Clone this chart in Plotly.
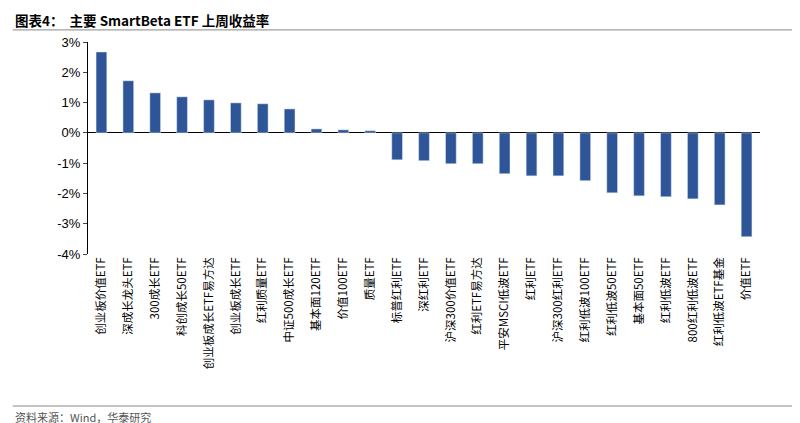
import plotly.graph_objects as go

categories = ["创业板价值ETF","深成长龙头ETF","300成长ETF","科创成长50ETF","创业板成长ETF易方达","创业板成长ETF",
"红利质量ETF","中证500成长ETF","基本面120ETF","价值100ETF","质量ETF","标普红利ETF","深红利ETF","沪深300价值ETF",
"红利ETF易方达","平安MSCI低波ETF","红利ETF","沪深300红利ETF","红利低波100ETF","红利低波50ETF","基本面50ETF",
"红利低波ETF","800红利低波ETF","红利低波ETF基金","价值ETF"]
values = [2.67,1.72,1.32,1.19,1.09,0.99,0.96,0.79,0.13,0.10,0.07,-0.89,-0.92,-1.02,-1.02,-1.35,-1.42,-1.42,-1.58,-1.98,-2.08,-2.11,-2.18,-2.38,-3.43]
tick_vals = [3,2,1,0,-1,-2,-3,-4]
tick_text = ["3%","2%","1%","0%","-1%","-2%","-3%","-4%"]

fig = go.Figure(go.Bar(x=categories, y=values, marker_color="#2E5597", width=0.4))
fig.update_layout(
    width=800, height=423, paper_bgcolor="white", plot_bgcolor="white",
    margin=dict(l=80, r=48, t=34, b=177), showlegend=False,
    font=dict(family="Noto Sans CJK SC, Arial", size=12, color="black"),
)
fig.update_xaxes(tickangle=-90, showline=False, ticks="", tickfont=dict(size=11.5))
fig.update_yaxes(range=[-4,3], tickvals=tick_vals, ticktext=tick_text, showgrid=False,
                 showline=True, linecolor="black", ticks="outside", ticklen=4,
                 zeroline=True, zerolinecolor="black", zerolinewidth=1, tickfont=dict(family="Arial", size=13))
fig.add_annotation(xref="paper", yref="paper", x=-0.112, y=1.104, xanchor="left", yanchor="middle",
                   text="<b>图表4：  主要 SmartBeta ETF 上周收益率</b>", showarrow=False, font=dict(size=13.5))
fig.add_shape(type="line", xref="paper", yref="paper", x0=-0.112, x1=1.064, y0=1.057, y1=1.057,
              line=dict(color="#888", width=1))
fig.add_annotation(xref="paper", yref="paper", x=-0.112, y=-0.77, xanchor="left", yanchor="middle",
                   text="资料来源：Wind，华泰研究", showarrow=False, font=dict(size=11, color="#555"))
fig.add_shape(type="line", xref="paper", yref="paper", x0=-0.112, x1=1.064, y0=-0.717, y1=-0.717,
              line=dict(color="#888", width=1))
fig.write_html("out.html")
